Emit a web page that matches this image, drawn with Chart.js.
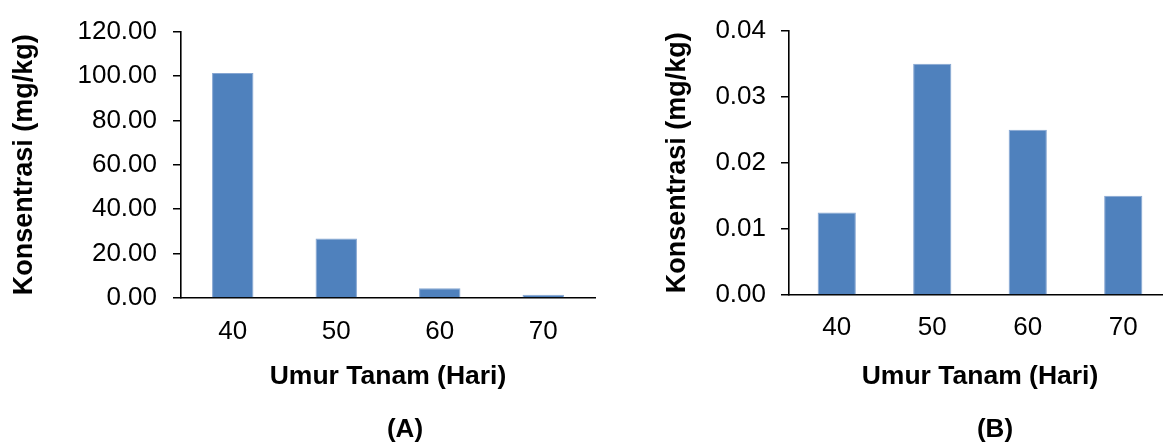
<!DOCTYPE html>
<html>
<head>
<meta charset="utf-8">
<script src="https://cdn.jsdelivr.net/npm/chart.js@4/dist/chart.umd.min.js"></script>
<style>
  html, body { margin: 0; padding: 0; background: #fff; }
  body { width: 1163px; height: 443px; overflow: hidden; position: relative; font-family: "Liberation Sans", Arial, sans-serif; }
  #wa { position: absolute; left: 0; top: 0; width: 610px; height: 443px; }
  #wb { position: absolute; left: 610px; top: 0; width: 575px; height: 443px; }
  .cap { position: absolute; top: 428px; transform: translate(-50%, -50%); font-weight: bold; font-size: 26px; color: #000; white-space: nowrap; }
</style>
</head>
<body>
<div id="wa"><canvas id="ca" width="610" height="443"></canvas></div>
<div id="wb"><canvas id="cb" width="575" height="443"></canvas></div>
<div class="cap" style="left:405px">(A)</div>
<div class="cap" style="left:995px">(B)</div>
<script>
// ---- data ----
const categories = ["40", "50", "60", "70"];
const valuesA = [101.4, 26.8, 4.4, 1.5];
const valuesB = [0.0125, 0.035, 0.025, 0.015];
const yTicksA = [0, 20, 40, 60, 80, 100, 120];
const yTicksB = [0, 0.01, 0.02, 0.03, 0.04];
const xTitle = "Umur Tanam (Hari)";
const yTitle = "Konsentrasi (mg/kg)";

Chart.defaults.font.family = '"Liberation Sans", Arial, sans-serif';
Chart.defaults.color = '#000';
Chart.defaults.animation = false;

function makeChart(id, values, yTicks, cfg) {
  const ymax = yTicks[yTicks.length - 1];
  const step = yTicks[1] - yTicks[0];
  return new Chart(document.getElementById(id), {
    type: 'bar',
    data: {
      labels: categories,
      datasets: [{
        data: values,
        backgroundColor: '#4F81BD',
        borderColor: '#86A6D2',
        borderWidth: 1,
        borderSkipped: 'bottom',
        barPercentage: 0.4,
        categoryPercentage: 1.0
      }]
    },
    options: {
      responsive: false,
      animation: false,
      layout: { padding: { left: 0, right: cfg.padRight, top: cfg.padTop, bottom: 0 } },
      plugins: { legend: { display: false }, tooltip: { enabled: false } },
      scales: {
        x: {
          type: 'category',
          offset: true,
          grid: { display: false, drawTicks: false, tickLength: 0 },
          border: { display: true, color: '#000', width: 1.6 },
          ticks: { font: { size: 26 }, padding: cfg.xTickPad, color: '#000', maxRotation: 0 },
          title: { display: true, text: xTitle, font: { size: 26.5, weight: 'bold' }, color: '#000', padding: { top: 0, bottom: 50 } },
          afterFit: (s) => { s.height = cfg.xHeight; }
        },
        y: {
          min: 0,
          max: ymax,
          afterBuildTicks: (s) => { s.ticks = yTicks.map(v => ({ value: v })); },
          grid: { display: true, drawOnChartArea: false, drawTicks: true, tickLength: 8, color: '#000', lineWidth: 1.5 },
          border: { display: true, color: '#000', width: 1.6 },
          ticks: { stepSize: step, font: { size: 26 }, padding: cfg.yTickPad, color: '#000', callback: (v) => Number(v).toFixed(2) },
          title: { display: true, text: yTitle, font: { size: 27, weight: 'bold' }, color: '#000', padding: { top: cfg.yTitlePad, bottom: 0 } },
          afterFit: (s) => { s.width = cfg.yWidth; }
        }
      }
    }
  });
}

makeChart('ca', valuesA, yTicksA, { padRight: 15, padTop: 23, xHeight: 145, yWidth: 181, xTickPad: 18, yTickPad: 16, yTitlePad: 8 });
makeChart('cb', valuesB, yTicksB, { padRight: 14, padTop: 20, xHeight: 148, yWidth: 179, xTickPad: 17, yTickPad: 15, yTitlePad: 51 });
</script>
</body>
</html>
